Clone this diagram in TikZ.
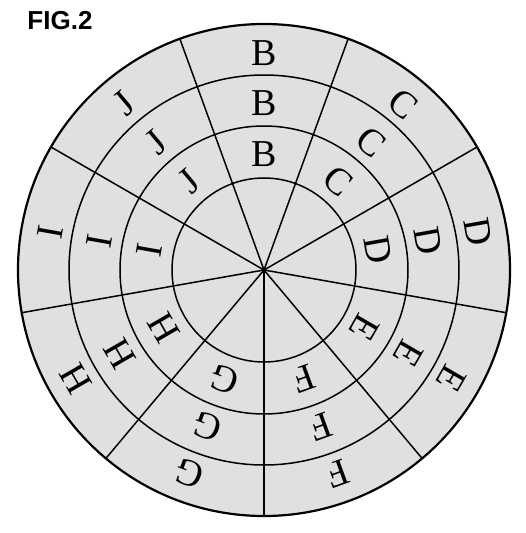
\documentclass[tikz,border=0pt]{standalone}
\usepackage{fontspec}
\setmainfont{Liberation Serif}
\newfontfamily\figfont{Liberation Sans}
\usepackage{tikz}
\usepackage{xcolor}

\begin{document}
\begin{tikzpicture}[x=1pt,y=1pt,
  ringline/.style={line width=1.5pt},
  letter/.style={inner sep=0pt,font=\fontsize{38}{38}\selectfont}]
\useasboundingbox (-264pt,-263pt) rectangle (262pt,270pt);
\coordinate (o) at (0,0);
\node[font=\figfont\bfseries\fontsize{26}{26}\selectfont] (title) at (-204pt,249pt) {FIG.2};
% disc and rings
\fill[black!12] (o) circle[radius=246pt];
\draw[ringline] (o) circle[radius=92pt];
\draw[ringline] (o) circle[radius=144pt];
\draw[ringline] (o) circle[radius=195pt];
\draw[line width=2.2pt] (o) circle[radius=246pt];
% spokes
\draw[ringline] (o) -- (110:246pt);
\draw[ringline] (o) -- (70:246pt);
\draw[ringline] (o) -- (30:246pt);
\draw[ringline] (o) -- (-10:246pt);
\draw[ringline] (o) -- (-50:246pt);
\draw[ringline] (o) -- (-90:246pt);
\draw[ringline] (o) -- (-130:246pt);
\draw[ringline] (o) -- (-170:246pt);
\draw[ringline] (o) -- (150:246pt);
% letters
\node[letter] (b1) at (90:116pt) {B};
\node[letter] (b2) at (90:167pt) {B};
\node[letter] (b3) at (90:217pt) {B};
\node[letter,rotate=-40] (c1) at (50:116pt) {C};
\node[letter,rotate=-40] (c2) at (50:167pt) {C};
\node[letter,rotate=-40] (c3) at (50:217pt) {C};
\node[letter,rotate=-80] (d1) at (10:116pt) {D};
\node[letter,rotate=-80] (d2) at (10:167pt) {D};
\node[letter,rotate=-80] (d3) at (10:217pt) {D};
\node[letter,rotate=-120] (e1) at (-30:116pt) {E};
\node[letter,rotate=-120] (e2) at (-30:167pt) {E};
\node[letter,rotate=-120] (e3) at (-30:217pt) {E};
\node[letter,rotate=-160] (f1) at (-70:116pt) {F};
\node[letter,rotate=-160] (f2) at (-70:167pt) {F};
\node[letter,rotate=-160] (f3) at (-70:217pt) {F};
\node[letter,rotate=160] (g1) at (-110:116pt) {G};
\node[letter,rotate=160] (g2) at (-110:167pt) {G};
\node[letter,rotate=160] (g3) at (-110:217pt) {G};
\node[letter,rotate=120] (h1) at (-150:116pt) {H};
\node[letter,rotate=120] (h2) at (-150:167pt) {H};
\node[letter,rotate=120] (h3) at (-150:217pt) {H};
\node[letter,rotate=80] (i1) at (170:116pt) {I};
\node[letter,rotate=80] (i2) at (170:167pt) {I};
\node[letter,rotate=80] (i3) at (170:217pt) {I};
\node[letter,rotate=40] (j1) at (130:116pt) {J};
\node[letter,rotate=40] (j2) at (130:167pt) {J};
\node[letter,rotate=40] (j3) at (130:217pt) {J};
\end{tikzpicture}
\end{document}
